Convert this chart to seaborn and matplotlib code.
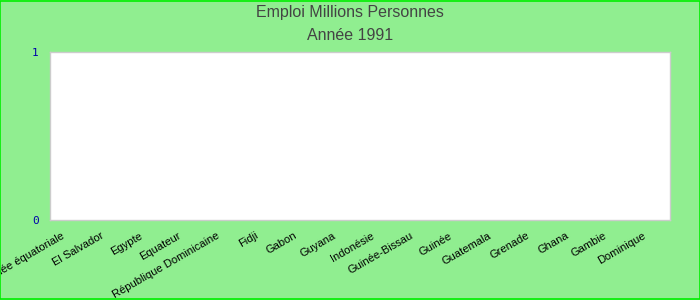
import matplotlib
matplotlib.use("Agg")
import matplotlib.pyplot as plt
import matplotlib.transforms as mtransforms
import seaborn as sns
import pandas as pd

countries = ["Guinée équatoriale", "El Salvador", "Egypte", "Equateur",
             "République Dominicaine", "Fidji", "Gabon", "Guyana", "Indonésie",
             "Guinée-Bissau", "Guinée", "Guatemala", "Grenade", "Ghana",
             "Gambie", "Dominique"]
values = [0, 0, 0, 0, 0, 0, 0, 0, 0, 0, 0, 0, 0, 0, 0, 0]
y_ticks = [0, 1]
title_line1 = "Emploi Millions Personnes"
title_line2 = "Année 1991"

df = pd.DataFrame({"pays": countries, "emploi": values})

sns.set_theme(style="white")
plt.rcParams["font.family"] = ["Liberation Sans", "DejaVu Sans"]

bg = "#90EE90"
fig = plt.figure(figsize=(7, 3), dpi=100, facecolor=bg)
ax = fig.add_axes([50 / 700, 1 - 220 / 300, 620 / 700, 168 / 300])
ax.set_facecolor("white")

sns.barplot(data=df, x="pays", y="emploi", ax=ax, color="#3366cc")

ax.set_ylim(0, 1)
ax.set_yticks(y_ticks)
ax.set_yticklabels([str(t) for t in y_ticks], color="#0000aa",
                   fontsize=8, family="DejaVu Sans Mono")
ax.tick_params(axis="y", length=0, pad=8)
ax.tick_params(axis="x", length=0, pad=4)
ax.set_xlabel("")
ax.set_ylabel("")
shift = mtransforms.ScaledTranslation(-8 / 100, -5 / 100, fig.dpi_scale_trans)
for lbl in ax.get_xticklabels():
    lbl.set_rotation(30)
    lbl.set_ha("right")
    lbl.set_va("top")
    lbl.set_rotation_mode("anchor")
    lbl.set_fontsize(8)
    lbl.set_color("black")
    lbl.set_transform(lbl.get_transform() + shift)

for s in ax.spines.values():
    s.set_color("#cccccc")
    s.set_linewidth(1)

fig.text(0.5, 1 - 13 / 300, title_line1, ha="center", va="center",
         fontsize=11.5, color="#444444")
fig.text(0.5, 1 - 35 / 300, title_line2, ha="center", va="center",
         fontsize=11.5, color="#444444")

border = plt.Rectangle((0.0007, 0.0017), 0.9986, 0.9966, transform=fig.transFigure,
                       fill=False, edgecolor="#00ee00", linewidth=1.2)
fig.patches.append(border)

fig.savefig("out.png", dpi=100, facecolor=bg)
